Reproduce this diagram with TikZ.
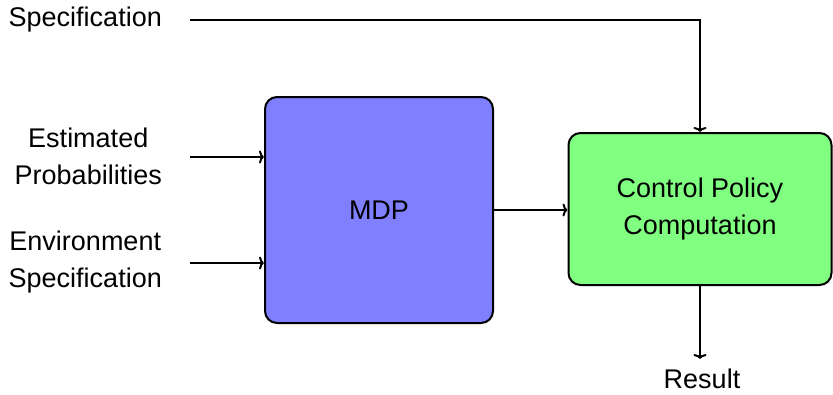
\documentclass[tikz,border=0pt]{standalone}
\usepackage{fontspec}
\setmainfont{Liberation Sans}
\usetikzlibrary{arrows.meta}
\begin{document}
\begin{tikzpicture}[x=1pt,y=-1pt,
  every node/.style={font=\fontsize{27}{37}\selectfont},
  label/.style={inner sep=0pt, align=center},
  block/.style={draw, line width=2pt, rounded corners=12pt, align=center, inner sep=0pt},
  conn/.style={line width=2pt, -{To[length=5pt,width=13pt,line width=2pt]}}]
  \useasboundingbox (0,0) rectangle (833,394);

  % blocks
  \node[block, fill=blue!50, minimum width=228pt, minimum height=226pt] (mdp) at (379,210) {MDP};
  \node[block, fill=green!50, minimum width=263pt, minimum height=152pt] (ctrl) at (700,209)
    {Control Policy\\Computation};

  % text labels
  \node[label, anchor=east] (spec) at (162,20) {Specification};
  \node[label, anchor=east] (est) at (162,156) {Estimated\\Probabilities};
  \node[label, anchor=east] (env) at (162,262) {Environment\\Specification};
  \node[label] (res) at (702,379) {Result};

  % connectors
  \draw[conn] ([xshift=28pt]spec.east) -| (ctrl.north);
  \draw[conn] ([xshift=28pt]est.east |- 0,157) -- (mdp.west |- 0,157);
  \draw[conn] ([xshift=28pt]env.east |- 0,263) -- (mdp.west |- 0,263);
  \draw[conn] (mdp.east |- 0,210) -- (ctrl.west |- 0,210);
  \draw[conn] (ctrl.south) -- (ctrl.south |- 0,359);
\end{tikzpicture}
\end{document}
